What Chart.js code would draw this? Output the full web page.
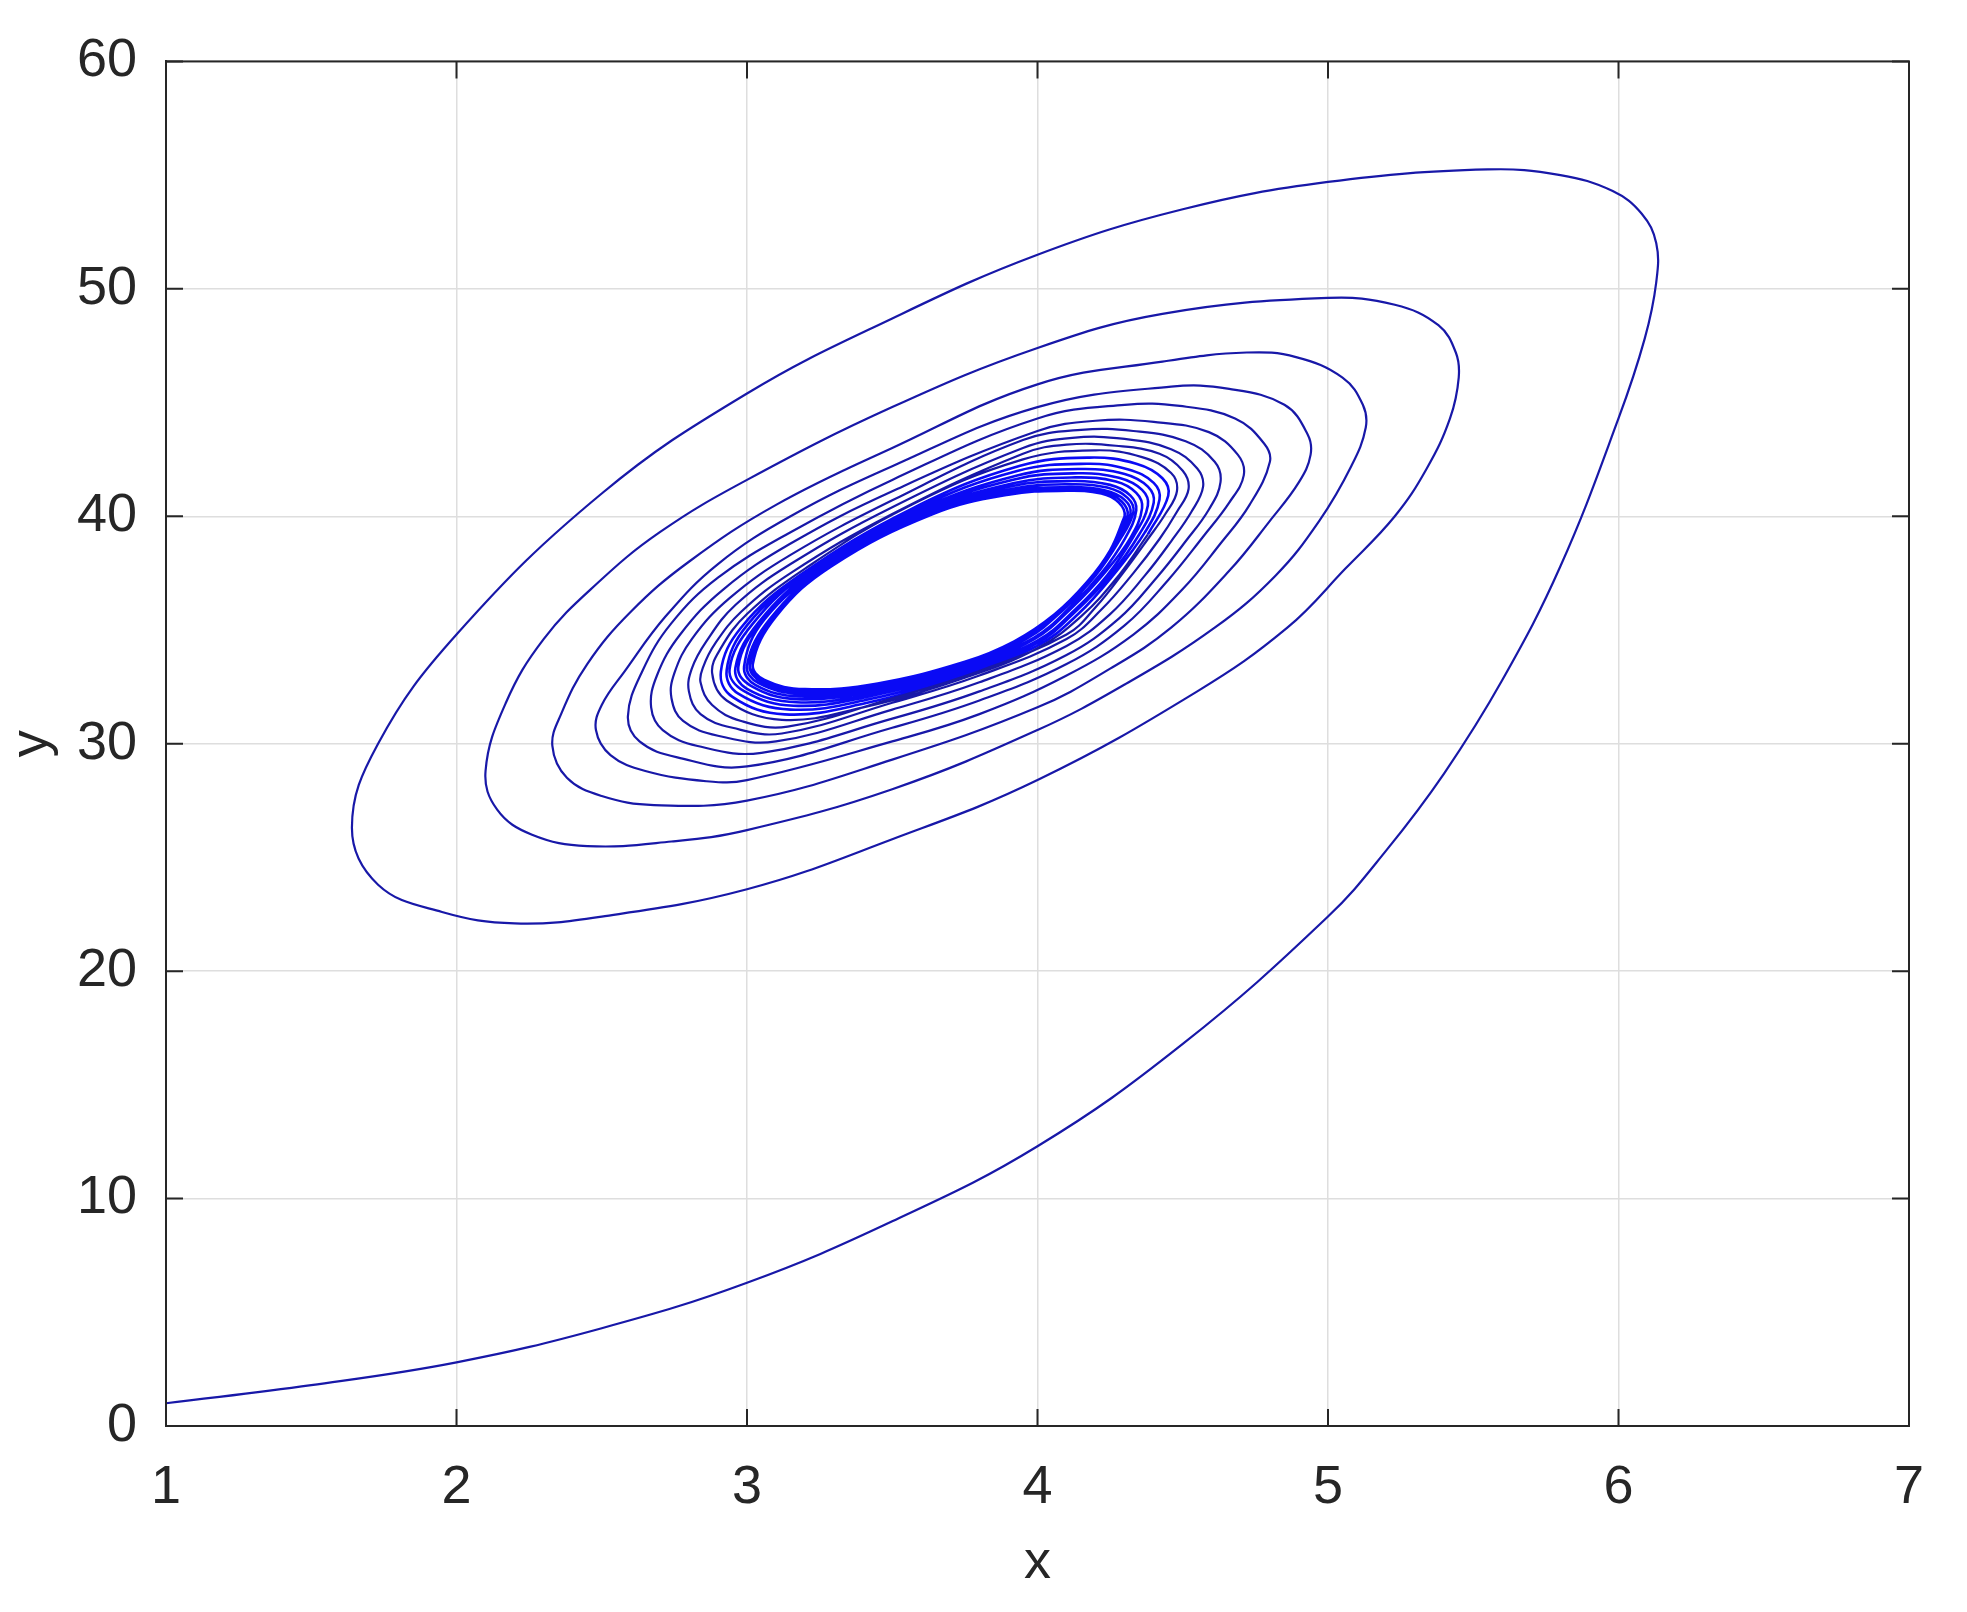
<!DOCTYPE html>
<html>
<head>
<meta charset="utf-8">
<title>Phase trajectory y vs x</title>
<script src="https://cdn.jsdelivr.net/npm/chart.js@4.4.1/dist/chart.umd.min.js"></script>
<style>
  html, body { margin: 0; padding: 0; background: #fff; }
  #wrap { width: 1967px; height: 1612px; }
</style>
</head>
<body>
<div id="wrap"><canvas id="phase" width="1967" height="1612"></canvas></div>
<script>
/* axis ticks */
var xTicks = [1, 2, 3, 4, 5, 6, 7];
var yTicks = [0, 10, 20, 30, 40, 50, 60];

/* trajectory as [x, y] — one array per turn of the spiral */
var lead = [[1.0,1.0],[1.5,1.8],[2.0,2.8],[2.5,4.3],[3.0,6.3],[3.5,9.0],[4.0,12.3],[4.5,16.8],[5.0,22.4],
  [5.2,25.3],[5.4,28.7],[5.6,32.8],[5.8,37.8],[6.0,44.3],[6.09,47.8]];
var turn1 = [[6.13,50.3],[6.13,52.0],[6.08,53.3],[5.98,54.3],[5.8,55.0],[5.55,55.25],[5.0,54.7],[4.5,53.5],
  [4.0,51.5],[3.5,48.7],[3.0,45.4],[2.5,41.0],[2.0,34.8],[1.73,30.0],[1.64,26.3],[1.73,23.8],[1.95,22.6],
  [2.2,22.1],[2.5,22.4],[3.0,23.6],[3.5,25.8],[4.0,28.4],[4.55,32.3],[4.86,35.1],[5.06,37.7],[5.23,40.0],
  [5.34,42.1],[5.42,44.3]];
var turn2 = [[5.45,46.1],[5.44,47.2],[5.38,48.4],[5.23,49.3],[5.0,49.6],[4.43,48.9],[4.0,47.4],[3.5,44.8],
  [3.0,41.6],[2.7,39.3],[2.48,37.0],[2.3,34.6],[2.17,31.8],[2.10,28.8],[2.14,27.1],[2.26,26.0],[2.45,25.5],
  [2.74,25.7],[3.0,26.2],[3.5,28.0],[4.0,30.6],[4.3,32.6],[4.61,35.1],[4.82,37.4],[4.97,39.8],[5.08,42.2]];
var turn3 = [[5.13,43.9],[5.12,44.9],[5.05,46.1],[4.89,47.0],[4.72,47.2],[4.43,46.8],[4.0,45.8],[3.5,43.0],
  [3.1,40.5],[2.8,38.0],[2.6,35.8],[2.45,33.5],[2.36,31.3],[2.33,29.9],[2.38,28.5],[2.5,27.7],[2.68,27.3],
  [3.0,27.5],[3.5,29.3],[4.0,31.6],[4.25,33.3],[4.46,35.1],[4.66,37.6],[4.80,39.8],[4.9,41.5]];
var turn4 = [[4.94,42.7],[4.93,43.6],[4.85,44.9],[4.66,45.6],[4.46,45.7],[4.0,44.8],[3.5,42.2],[3.15,40.0],
  [2.9,37.9],[2.72,35.6],[2.58,33.2],[2.5,31.7],[2.48,30.6],[2.53,29.5],[2.65,28.8],[2.86,28.35],[3.0,28.4],
  [3.5,30.1],[3.8,31.3],[4.1,33.0],[4.33,34.8],[4.5,36.8],[4.63,38.8],[4.73,40.5]];
var turn5 = [[4.80,42.4],[4.78,43.2],[4.68,44.3],[4.49,44.85],[4.3,44.9],[4.0,44.3],[3.5,41.6],[3.15,39.3],
  [2.9,37.3],[2.74,35.3],[2.64,33.2],[2.59,31.2],[2.63,30.1],[2.76,29.4],[3.0,29.0],[3.5,30.7],[3.8,31.9],
  [4.1,33.5],[4.3,35.2],[4.45,37.2],[4.57,39.1],[4.66,40.6]];
var turn6 = [[4.71,41.8],[4.69,42.7],[4.59,43.7],[4.4,44.15],[4.2,44.2],[4.0,43.75],[3.5,41.1],[3.15,38.8],
  [2.92,36.8],[2.77,34.8],[2.69,33.0],[2.67,31.6],[2.71,30.6],[2.83,29.9],[3.05,29.6],[3.5,31.1],[3.8,32.3],
  [4.1,33.9],[4.28,35.5],[4.41,37.3],[4.51,38.9],[4.59,40.3]];
var turn7 = [[4.63,41.5],[4.61,42.4],[4.51,43.3],[4.33,43.75],[4.15,43.8],[3.95,43.35],[3.5,40.7],[3.15,38.3],
  [2.94,36.4],[2.81,34.6],[2.75,33.1],[2.74,32.0],[2.78,31.0],[2.9,30.35],[3.1,30.1],[3.5,31.5],[3.8,32.7],
  [4.1,34.3],[4.25,35.7],[4.37,37.4],[4.46,38.9],[4.53,40.2]];
var turn8 = [[4.57,41.3],[4.55,42.1],[4.46,42.95],[4.3,43.4],[4.12,43.45],[3.95,43.0],[3.5,40.4],[3.15,37.9],
  [2.96,36.1],[2.86,34.5],[2.81,33.3],[2.80,32.3],[2.84,31.3],[2.95,30.7],[3.12,30.45],[3.5,31.8],[3.8,33.0],
  [4.1,34.6],[4.22,35.9],[4.33,37.5],[4.42,39.0],[4.48,40.2]];
var turn9 = [[4.52,41.2],[4.50,42.0],[4.42,42.75],[4.27,43.1],[4.1,43.15],[3.95,42.75],[3.5,40.1],[3.15,37.5],
  [2.98,35.8],[2.89,34.4],[2.85,33.4],[2.84,32.7],[2.88,31.7],[2.98,31.0],[3.14,30.75],[3.5,32.0],[3.8,33.2],
  [4.1,34.8],[4.2,36.0],[4.3,37.6],[4.38,39.0],[4.44,40.1]];
var turn10 = [[4.48,41.1],[4.46,41.9],[4.36,42.6],[4.2,42.9],[3.95,42.5],[3.55,40.4],[3.2,37.7],[3.0,35.7],
  [2.91,34.2],[2.88,33.1],[2.93,31.9],[3.12,31.05],[3.4,31.6],[3.75,32.9],[4.0,34.2],[4.15,35.6],[4.28,37.4],
  [4.38,39.2]];

/* dense inner band, converging on the innermost orbit */
var turn11 = [[4.45,40.90],[4.43,41.67],[4.34,42.31],[4.18,42.58],[3.94,42.22],[3.57,40.35],[3.18,37.39],[2.98,35.11],
  [2.91,33.17],[2.95,32.06],[3.13,31.29],[3.41,31.79],[3.75,33.03],[4.0,34.3],[4.14,35.7],[4.26,37.4],[4.37,39.3]];
var turn12 = [[4.42,40.74],[4.40,41.47],[4.31,42.07],[4.17,42.31],[3.93,41.99],[3.58,40.30],[3.20,37.47],[3.0,35.20],
  [2.93,33.23],[2.97,32.20],[3.15,31.50],[3.42,31.95],[3.75,33.13],[4.0,34.43],[4.13,35.8],[4.25,37.4],[4.35,39.2]];
var turn13 = [[4.40,40.59],[4.38,41.30],[4.30,41.86],[4.15,42.08],[3.93,41.79],[3.59,40.26],[3.21,37.53],[3.02,35.28],
  [2.94,33.28],[2.99,32.31],[3.16,31.67],[3.42,32.08],[3.75,33.22],[4.0,34.53],[4.13,35.9],[4.24,37.4],[4.33,39.1]];
var turn14 = [[4.38,40.47],[4.36,41.16],[4.28,41.69],[4.14,41.89],[3.92,41.62],[3.60,40.23],[3.23,37.59],[3.04,35.34],
  [2.96,33.33],[3.0,32.41],[3.17,31.82],[3.43,32.20],[3.75,33.30],[3.99,34.61],[4.12,36.0],[4.23,37.5],[4.32,39.05]];
var turn15 = [[4.36,40.36],[4.34,41.03],[4.27,41.53],[4.13,41.71],[3.92,41.46],[3.61,40.20],[3.24,37.64],[3.05,35.40],
  [2.97,33.37],[3.02,32.50],[3.17,31.96],[3.43,32.30],[3.75,33.37],[3.99,34.68],[4.12,36.1],[4.22,37.5],[4.30,39.0]];
var turn16 = [[4.34,40.26],[4.32,40.91],[4.25,41.38],[4.12,41.55],[3.91,41.32],[3.62,40.17],[3.26,37.68],[3.06,35.46],
  [2.99,33.40],[3.03,32.58],[3.18,32.08],[3.44,32.40],[3.75,33.43],[3.96,34.6],[4.09,35.9],[4.2,37.4],[4.28,38.9]];
var turn17 = [[4.33,40.18],[4.31,40.81],[4.24,41.26],[4.12,41.41],[3.91,41.20],[3.63,40.15],[3.27,37.72],[3.08,35.50],
  [3.0,33.44],[3.04,32.66],[3.19,32.18],[3.44,32.48],[3.75,33.49],[3.95,34.6],[4.08,35.85],[4.19,37.3],[4.27,38.8]];
var turn18 = [[4.32,40.10],[4.30,40.72],[4.23,41.14],[4.11,41.28],[3.90,41.09],[3.63,40.13],[3.28,37.76],[3.09,35.55],
  [3.01,33.46],[3.05,32.72],[3.19,32.28],[3.45,32.56],[3.75,33.54],[3.94,34.6],[4.07,35.8],[4.18,37.2],[4.26,38.7]];
var turn19 = [[4.31,40.04],[4.29,40.65],[4.23,41.06],[4.10,41.19],[3.90,41.01],[3.64,40.11],[3.28,37.78],[3.09,35.58],
  [3.01,33.48],[3.06,32.76],[3.20,32.35],[3.45,32.61],[3.75,33.57],[3.93,34.55],[4.07,35.75],[4.18,37.15],[4.26,38.6]];
var turn20 = [[4.30,40.0],[4.28,40.6],[4.22,41.0],[4.10,41.12],[3.90,40.95],[3.64,40.1],[3.29,37.8],[3.10,35.6],
  [3.02,33.5],[3.06,32.8],[3.2,32.4],[3.45,32.65],[3.75,33.6],[3.92,34.5],[4.06,35.7],[4.17,37.1],[4.25,38.5],[4.30,40.0]];

var INK = '#262626';
var FONT = { family: '"Liberation Sans", Arial, Helvetica, sans-serif', size: 54 };

function toXY(list) {
  return [].concat.apply([], list).map(function (p) { return { x: p[0], y: p[1] }; });
}
var outer = toXY([lead, turn1, turn2, turn3, turn4, turn5, turn6, turn7, turn8, turn9, turn10]);
var core = toXY([turn10.slice(-1), turn11, turn12, turn13, turn14, turn15, turn16, turn17, turn18, turn19, turn20]);

/* MATLAB-style box with inward tick marks on all four sides */
var boxPlugin = {
  id: 'box',
  afterDraw: function (chart) {
    var a = chart.chartArea, ctx = chart.ctx, sx = chart.scales.x, sy = chart.scales.y, len = 17;
    ctx.save();
    ctx.strokeStyle = INK;
    ctx.lineWidth = 2;
    ctx.strokeRect(a.left, a.top, a.right - a.left, a.bottom - a.top);
    ctx.beginPath();
    xTicks.forEach(function (v) {
      var px = sx.getPixelForValue(v);
      ctx.moveTo(px, a.bottom); ctx.lineTo(px, a.bottom - len);
      ctx.moveTo(px, a.top);    ctx.lineTo(px, a.top + len);
    });
    yTicks.forEach(function (v) {
      var py = sy.getPixelForValue(v);
      ctx.moveTo(a.left, py);  ctx.lineTo(a.left + len, py);
      ctx.moveTo(a.right, py); ctx.lineTo(a.right - len, py);
    });
    ctx.stroke();
    ctx.restore();
  }
};

new Chart(document.getElementById('phase'), {
  type: 'scatter',
  data: {
    datasets: [{
      label: 'trajectory',
      data: outer,
      showLine: true,
      borderColor: '#1818a8',
      borderWidth: 2.2,
      pointRadius: 0,
      tension: 0.4,
      fill: false
    }, {
      label: 'trajectory (inner turns)',
      data: core,
      showLine: true,
      borderColor: '#0a0af5',
      borderWidth: 2.6,
      pointRadius: 0,
      tension: 0.4,
      fill: false
    }]
  },
  options: {
    responsive: false,
    animation: false,
    devicePixelRatio: 1,
    layout: { padding: { left: 0, right: 58, top: 53, bottom: 0 } },
    plugins: { legend: { display: false }, tooltip: { enabled: false } },
    scales: {
      x: {
        type: 'linear', min: 1, max: 7,
        afterBuildTicks: function (s) { s.ticks = xTicks.map(function (v) { return { value: v }; }); },
        afterFit: function (s) { s.height = 186; },
        grid: { color: '#dedede', lineWidth: 1.5, drawTicks: false },
        border: { display: true, color: INK, width: 2 },
        ticks: { color: INK, font: FONT, padding: 30, maxRotation: 0 },
        title: { display: true, text: 'x', color: INK, font: FONT, padding: { top: 0, bottom: 16 } }
      },
      y: {
        type: 'linear', min: 0, max: 60,
        afterBuildTicks: function (s) { s.ticks = yTicks.map(function (v) { return { value: v }; }); },
        afterFit: function (s) { s.width = 166; },
        grid: { color: '#dedede', lineWidth: 1.5, drawTicks: false },
        border: { display: true, color: INK, width: 2 },
        ticks: { color: INK, font: FONT, padding: 29 },
        title: { display: true, text: 'y', color: INK, font: FONT, padding: { top: 0, bottom: 0 } }
      }
    }
  },
  plugins: [boxPlugin]
});
</script>
</body>
</html>
